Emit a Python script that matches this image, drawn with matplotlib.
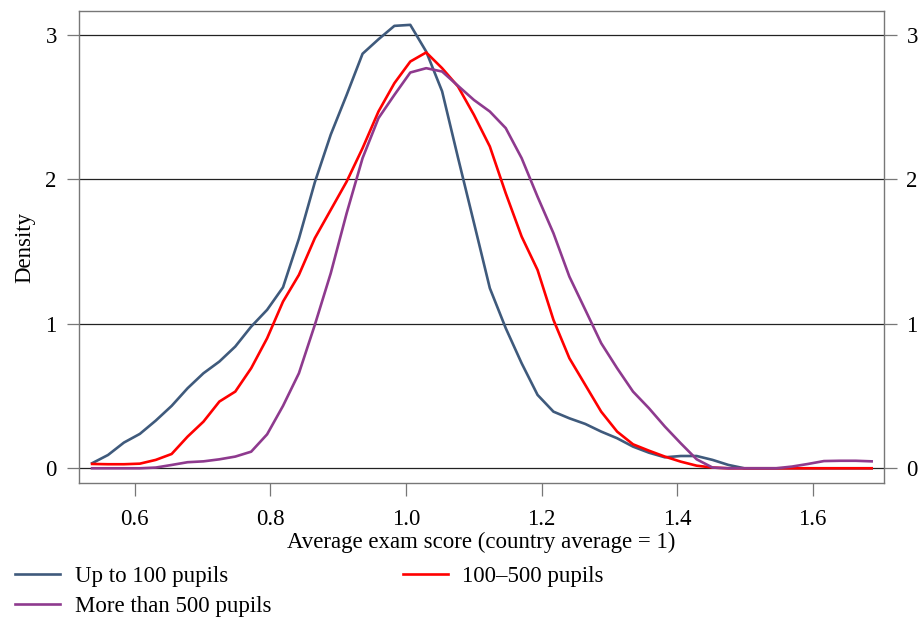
import numpy as np
import matplotlib
matplotlib.use("Agg")
import matplotlib.pyplot as plt

plt.rcParams["font.family"] = ["Liberation Serif", "DejaVu Serif"]

# evaluation grid (50 points, like kdensity n(50))
x_start, x_stop, n_points = 0.537, 1.687, 50

small = [0.035, 0.092, 0.178, 0.238, 0.33, 0.432, 0.554, 0.658, 0.739, 0.843,
         0.981, 1.097, 1.253, 1.59, 1.98, 2.31, 2.585, 2.87, 2.97, 3.063,
         3.07, 2.885, 2.61, 2.15, 1.70, 1.247, 0.97, 0.727, 0.508, 0.392,
         0.346, 0.307, 0.254, 0.208, 0.15, 0.108, 0.076, 0.085, 0.085, 0.058,
         0.023, 0.0, 0.0, 0.0, 0.0, 0.0, 0.0, 0.0, 0.0, 0.0]
medium = [0.03, 0.028, 0.028, 0.032, 0.058, 0.099, 0.219, 0.323, 0.462, 0.531,
          0.693, 0.90, 1.154, 1.339, 1.593, 1.789, 1.985, 2.216, 2.47, 2.666,
          2.816, 2.879, 2.77, 2.643, 2.447, 2.228, 1.904, 1.604, 1.373, 1.027,
          0.762, 0.577, 0.392, 0.254, 0.166, 0.122, 0.081, 0.046, 0.018, 0.005,
          0.0, 0.0, 0.0, 0.0, 0.0, 0.0, 0.0, 0.0, 0.0, 0.0]
large = [0.0, 0.0, 0.0, 0.0, 0.005, 0.023, 0.042, 0.048, 0.062, 0.081,
         0.115, 0.235, 0.432, 0.658, 0.993, 1.35, 1.766, 2.147, 2.424, 2.585,
         2.74, 2.77, 2.747, 2.648, 2.55, 2.47, 2.355, 2.147, 1.88, 1.627,
         1.327, 1.097, 0.866, 0.693, 0.531, 0.416, 0.289, 0.173, 0.062, 0.005,
         0.0, 0.0, 0.0, 0.0, 0.012, 0.03, 0.05, 0.052, 0.052, 0.048]

labels = ["Up to 100 pupils", "100\u2013500 pupils", "More than 500 pupils"]
colors = ["#3f5a7c", "#ff0000", "#8e3a8e"]

xticks = [0.6, 0.8, 1.0, 1.2, 1.4, 1.6]
yticks = [0, 1, 2, 3]

grid = np.linspace(x_start, x_stop, n_points)

fig = plt.figure(figsize=(9.22, 6.21), dpi=100)
ax = fig.add_axes([0.0857, 0.2222, 0.8733, 0.7601])

lines = []
for y, lab, c in zip([small, medium, large], labels, colors):
    ln, = ax.plot(grid, y, color=c, lw=1.9, label=lab)
    lines.append(ln)

ax.set_xlim(0.5177, 1.7055)
ax.set_ylim(-0.102, 3.166)
ax.set_xticks(xticks)
ax.set_xticklabels(["%.1f" % t for t in xticks])
ax.set_yticks(yticks)
ax.yaxis.grid(True, color="#222222", lw=0.9)
ax.set_axisbelow(True)

fs = 16.5
ax.tick_params(axis="both", direction="out", length=9, width=0.9,
               color="#777777", labelsize=fs, pad=6)
ax.tick_params(axis="x", pad=10)
ax.tick_params(axis="y", right=True, labelright=True, pad=7)
for s in ax.spines.values():
    s.set_color("#777777")
    s.set_linewidth(1.0)

ax.set_xlabel("Average exam score (country average = 1)", fontsize=fs, labelpad=1)
ax.set_ylabel("Density", fontsize=fs, labelpad=7)

# legend rows: blue, red / purple
order = [0, 2, 1]
fig.legend([lines[i] for i in order], [labels[i] for i in order],
           loc="upper left", bbox_to_anchor=(0.0163, 0.089), ncol=2,
           frameon=False, fontsize=fs, handlelength=1.95, handletextpad=0.65,
           columnspacing=5.75, labelspacing=0.4, borderpad=0, borderaxespad=0)

fig.savefig("out.png", dpi=100)
